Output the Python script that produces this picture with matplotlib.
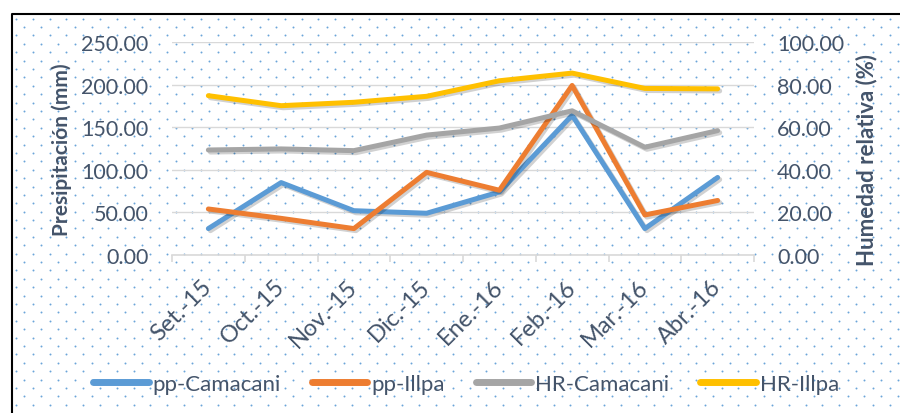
import matplotlib
matplotlib.use("Agg")
import matplotlib.pyplot as plt
import matplotlib.patheffects as pe
import numpy as np

months = ["Set.-15", "Oct.-15", "Nov.-15", "Dic.-15", "Ene.-16", "Feb.-16", "Mar.-16", "Abr.-16"]
pp_camacani = [31, 85, 52, 49, 74, 164, 31, 91]
pp_illpa = [54, 43, 31, 97, 76, 199, 47, 64]
hr_camacani = [49.3, 49.8, 49.0, 56.3, 59.6, 67.7, 50.6, 58.4]
hr_illpa = [74.8, 70.1, 71.7, 74.5, 81.8, 85.4, 78.2, 78.0]

W, H = 900, 414
plt.rcParams['font.family'] = ['Lato', 'DejaVu Sans']
txt = '#44546A'

fig = plt.figure(figsize=(W / 100, H / 100), dpi=100)

# background dotted pattern and frame
bg = fig.add_axes([0, 0, 1, 1], zorder=-5)
bg.set_xlim(0, W)
bg.set_ylim(H, 0)
bg.axis('off')
xs, ys = [], []
for r, yy in enumerate(np.arange(19.5, H, 8.4)):
    off = 4 if r % 2 == 0 else 12.4
    for xx in np.arange(off + 12, W, 16.8):
        xs.append(xx)
        ys.append(yy)
bg.scatter(xs, ys, s=2.0, color='#5B9BD5', linewidths=0, alpha=0.9)
bg.plot([12, 12, W + 5], [H + 5, 15, 15], color='black', lw=1.5)

ax = fig.add_axes([172 / W, 1 - 256 / H, (754 - 172) / W, (256 - 43) / H])
ax.patch.set_alpha(0)
x = np.arange(len(months))
ax.set_xlim(-0.5, len(months) - 0.5)
ax.set_ylim(0, 250)
ax.set_yticks(np.arange(0, 251, 50))
ax.set_yticklabels([f"{v:.2f}" for v in np.arange(0, 251, 50)])
ax.grid(axis='y', color='#D9D9D9', lw=1)
ax.set_axisbelow(True)
for s in ['top', 'right', 'left']:
    ax.spines[s].set_visible(False)
ax.spines['bottom'].set_color('#D9D9D9')
ax.spines['bottom'].set_linewidth(1.2)
ax.tick_params(axis='y', length=0, pad=17, labelsize=15.5, labelcolor=txt)
ax.set_xticks(np.arange(-0.5, len(months), 1), minor=False)
ax.set_xticklabels([])
ax.tick_params(axis='x', which='major', length=5, color='#D9D9D9', width=1.2)
ax.set_xticks(x, minor=True)
ax.set_xticklabels(months, minor=True, rotation=45, ha='right', va='center',
                   rotation_mode='anchor', fontsize=17, color=txt)
ax.tick_params(axis='x', which='minor', length=0, pad=20)

ax2 = ax.twinx()
ax2.set_ylim(0, 100)
ax2.set_yticks(np.arange(0, 101, 20))
ax2.set_yticklabels([f"{v:.2f}" for v in np.arange(0, 101, 20)])
for s in ax2.spines.values():
    s.set_visible(False)
ax2.tick_params(axis='y', length=0, pad=16.5, labelsize=15.5, labelcolor=txt)

shadow = [pe.SimpleLineShadow(offset=(1.5, -1.5), shadow_color='black', alpha=0.18), pe.Normal()]
lw = 3.6
l1, = ax.plot(x, pp_camacani, color='#5B9BD5', lw=lw, solid_capstyle='round', path_effects=shadow, label='pp-Camacani', zorder=3)
l2, = ax.plot(x, pp_illpa, color='#ED7D31', lw=lw, solid_capstyle='round', path_effects=shadow, label='pp-Illpa', zorder=3)
l3, = ax2.plot(x, hr_camacani, color='#A5A5A5', lw=lw, solid_capstyle='round', path_effects=shadow, label='HR-Camacani')
l4, = ax2.plot(x, hr_illpa, color='#FFC000', lw=lw, solid_capstyle='round', path_effects=shadow, label='HR-Illpa')

fig.text(62 / W, 1 - 150 / H, "Presipitación (mm)", rotation=90, ha='center', va='center',
         fontsize=15, fontweight='bold', color=txt)
fig.text(867 / W, 1 - 160 / H, "Humedad relativa (%)", rotation=90, ha='center', va='center',
         fontsize=16, fontweight='bold', color=txt)

leg = fig.legend(handles=[l1, l2, l3, l4], loc='center', bbox_to_anchor=(466 / W, 1 - 385 / H),
                 ncol=4, frameon=False, fontsize=16, handlelength=2.5, handletextpad=0.17,
                 columnspacing=1.4, labelcolor=txt)
for h in leg.legend_handles:
    h.set_linewidth(5)
    h.set_path_effects([])
    h.set_solid_capstyle('round')

fig.savefig("out.png", dpi=100)
